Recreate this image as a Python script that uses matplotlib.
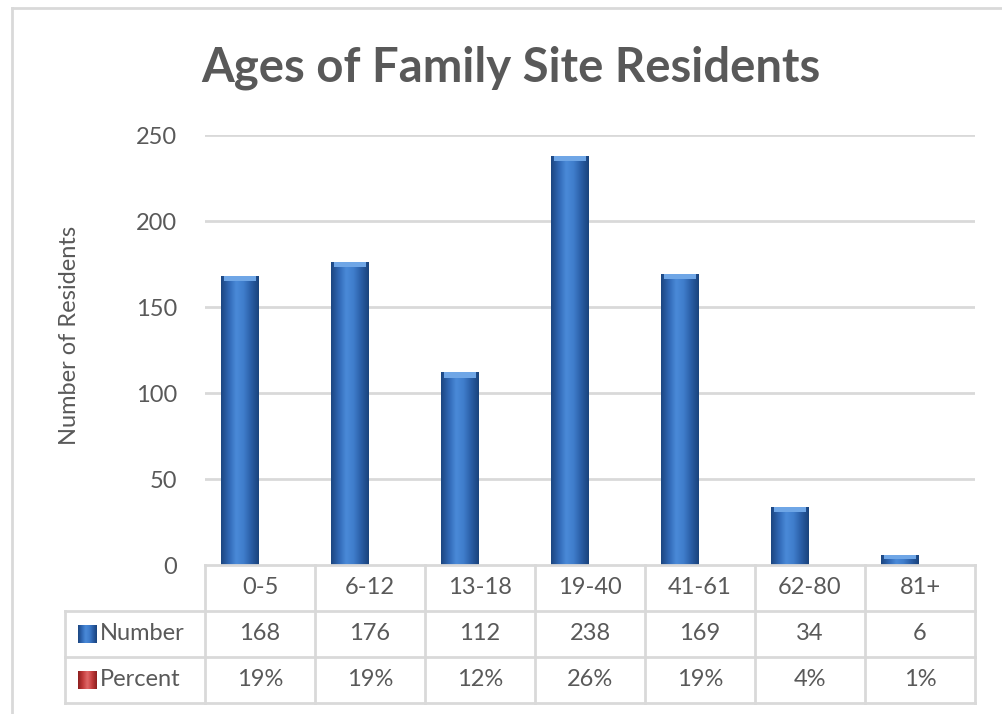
import matplotlib
matplotlib.use('Agg')
import numpy as np
import matplotlib.pyplot as plt
from matplotlib.colors import LinearSegmentedColormap
from matplotlib.patches import Rectangle
from matplotlib.lines import Line2D

# Age groups and resident counts
age_groups = ['0-5', '6-12', '13-18', '19-40', '41-61', '62-80', '81+']
residents = [168, 176, 112, 238, 169, 34, 6]
percents = [19, 19, 12, 26, 19, 4, 1]
y_ticks = [0, 50, 100, 150, 200, 250]

W, H = 1002, 714
GRID = '#d9d9d9'
TEXT = '#595959'
plt.rcParams['font.family'] = ['Lato', 'DejaVu Sans']


def fx(px):
    return px / W


def fy(py):
    return 1 - py / H


blue_cmap = LinearSegmentedColormap.from_list(
    'bar_blue', ['#1c4680', '#2f67b4', '#4a8ad8', '#3f7dcc', '#2a5ea6', '#1a437c'])
red_cmap = LinearSegmentedColormap.from_list(
    'key_red', ['#8c1f1f', '#c23a3a', '#e06a6a', '#c23a3a', '#8c1f1f'])
grad = np.linspace(0, 1, 64).reshape(1, -1)


def gradient_rect(ax, x0, y0, w, h, cmap, **kw):
    rect = Rectangle((x0, y0), w, h, facecolor='none', edgecolor='none', **kw)
    ax.add_patch(rect)
    im = ax.imshow(grad, cmap=cmap, extent=[x0, x0 + w, y0, y0 + h],
                   aspect='auto', interpolation='bicubic', zorder=3, **kw)
    im.set_clip_path(rect)
    return rect


fig = plt.figure(figsize=(W / 100, H / 100), dpi=100)

# chart frame
fig.add_artist(Line2D([fx(12), fx(12)], [fy(8), 0], transform=fig.transFigure,
                      color=GRID, lw=2))
fig.add_artist(Line2D([fx(12), 1], [fy(8), fy(8)], transform=fig.transFigure,
                      color=GRID, lw=2))

ax = fig.add_axes([fx(205), fy(565), (975 - 205) / W, (565 - 135) / H])
x = np.arange(len(age_groups))
bar_w = 0.345
offset = -0.18
for xi, val in zip(x, residents):
    x0 = xi + offset - bar_w / 2
    gradient_rect(ax, x0, 0, bar_w, val, blue_cmap)
    # lighter cap on top of each column
    cap = min(3.0, val * 0.4)
    ax.add_patch(Rectangle((x0 + bar_w * 0.08, val - cap), bar_w * 0.84, cap,
                           facecolor='#6fa6e6', edgecolor='none', zorder=4))

ax.set_xlim(-0.5, len(age_groups) - 0.5)
ax.set_ylim(0, 250)
ax.set_yticks(y_ticks)
ax.set_xticks([])
ax.tick_params(axis='y', length=0, pad=20, labelsize=17, labelcolor=TEXT)
for v in y_ticks[1:]:
    ax.axhline(v, color=GRID, lw=2, zorder=1)
for s in ax.spines.values():
    s.set_visible(False)

fig.text(fx(70), fy(335), 'Number of Residents', rotation=90, ha='center',
         va='center', fontsize=17, color=TEXT)
fig.text(fx(511), fy(81), 'Ages of Family Site Residents', ha='center',
         va='baseline', fontsize=34, fontweight='bold', color=TEXT)

# data table under the chart
label_w = 140 / 110
tab = fig.add_axes([fx(65), fy(703), (975 - 65) / W, (703 - 565) / H])
left = -0.5 - label_w
right = len(age_groups) - 0.5
tab.set_xlim(left, right)
tab.set_ylim(3, 0)
tab.axis('off')

line_kw = dict(color=GRID, lw=2, clip_on=False)
tab.plot([-0.5, right], [0, 0], **line_kw)
for r in (1, 2, 3):
    tab.plot([left, right], [r, r], **line_kw)
for k in range(len(age_groups) + 1):
    tab.plot([-0.5 + k, -0.5 + k], [0, 3], **line_kw)
tab.plot([left, left], [1, 3], **line_kw)

cell_kw = dict(ha='center', va='center', fontsize=17, color=TEXT)
for xi, grp, val, pct in zip(x, age_groups, residents, percents):
    tab.text(xi, 0.5, grp, **cell_kw)
    tab.text(xi, 1.5, str(val), **cell_kw)
    tab.text(xi, 2.5, f'{pct}%', **cell_kw)

key_x = left + 13 / 110
key_w = 19 / 110
for row, name, cmap in ((1, 'Number', blue_cmap), (2, 'Percent', red_cmap)):
    gradient_rect(tab, key_x, row + 0.3, key_w, 0.4, cmap)
    tab.text(key_x + key_w + 3 / 110, row + 0.5, name, ha='left', va='center',
             fontsize=17, color=TEXT)
tab.set_xlim(left, right)
tab.set_ylim(3, 0)

fig.savefig('out.png', dpi=100)
